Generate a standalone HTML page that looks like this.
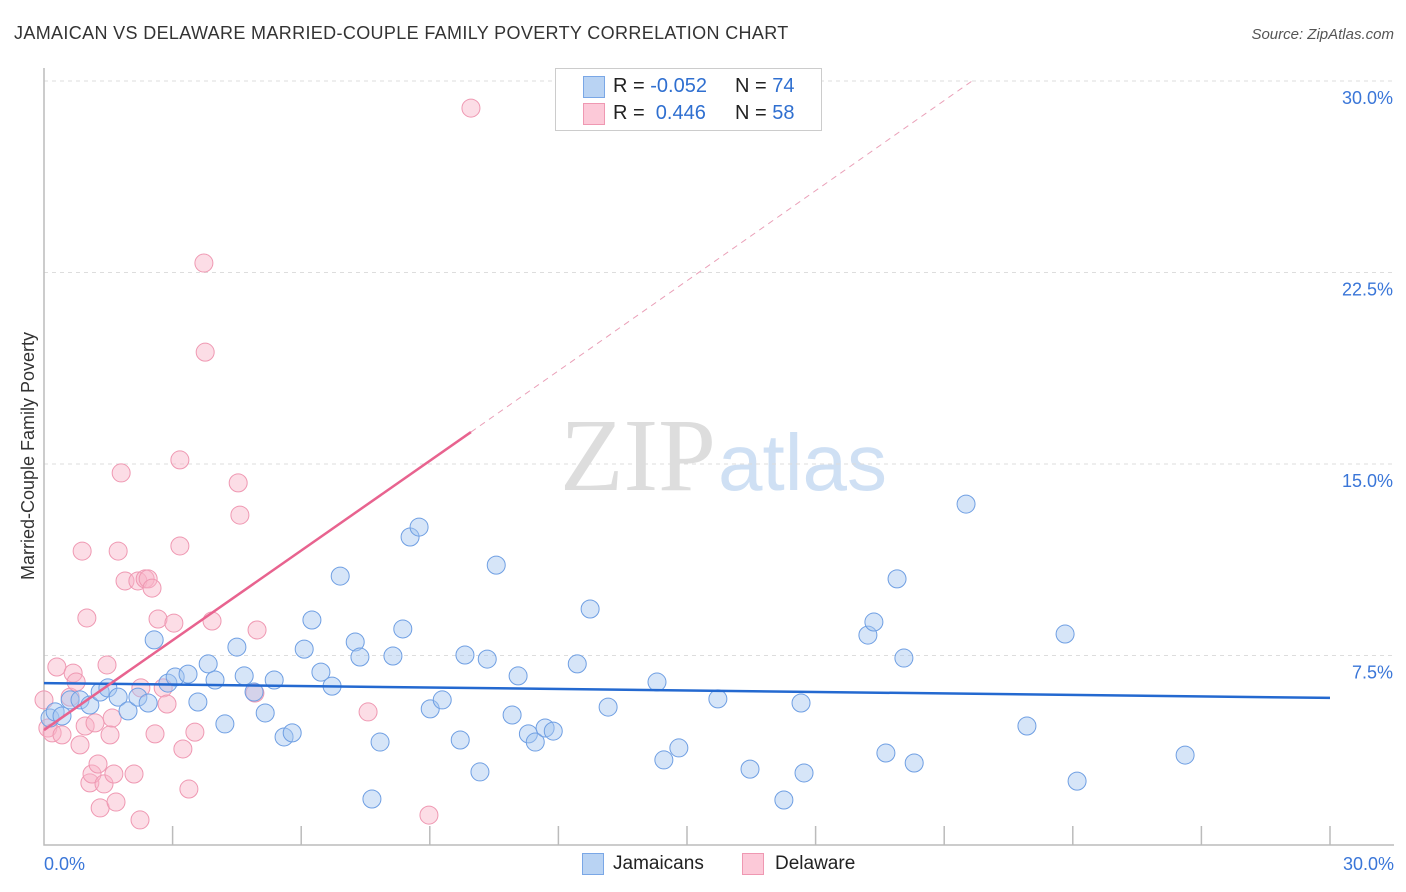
<!DOCTYPE html>
<html><head><meta charset="utf-8"><style>
body{margin:0;background:#fff;font-family:"Liberation Sans",sans-serif;}
#wrap{position:relative;width:1406px;height:892px;overflow:hidden}
</style></head><body>
<div id="wrap">
<svg id="svg" width="1406" height="892" xmlns="http://www.w3.org/2000/svg">
<text x="14" y="39" font-size="18" fill="#333" letter-spacing="0.35">JAMAICAN VS DELAWARE MARRIED-COUPLE FAMILY POVERTY CORRELATION CHART</text>
<text x="1394" y="39" font-size="15" fill="#555" font-style="italic" text-anchor="end">Source: ZipAtlas.com</text>
<text x="716" y="490" font-size="104" fill="#ddd" text-anchor="end" font-family="Liberation Serif,serif">ZIP</text>
<text x="718" y="490" font-size="80" fill="#cfe0f4">atlas</text>
<text transform="translate(34,456) rotate(-90)" font-size="18" fill="#333" text-anchor="middle">Married-Couple Family Poverty</text>
<g id="grid"></g><g id="pts"></g><g id="lines"></g>
</svg>
<div style="position:absolute;left:555px;top:68px;width:265px;height:61px;border:1px solid #ccc;background:#fff;font-size:20px">
 <div style="position:absolute;left:27px;top:7px;width:20px;height:20px;background:#b9d3f3;border:1px solid #7aa7e6"></div>
 <div style="position:absolute;left:57px;top:6px;color:#222">R = <span style="color:#2f6fd0">-0.052</span></div>
 <div style="position:absolute;left:179px;top:6px;color:#222">N = <span style="color:#2f6fd0">74</span></div>
 <div style="position:absolute;left:27px;top:34px;width:20px;height:20px;background:#fcc9d8;border:1px solid #ef98b2"></div>
 <div style="position:absolute;left:57px;top:33px;color:#222">R = &nbsp;<span style="color:#2f6fd0">0.446</span></div>
 <div style="position:absolute;left:179px;top:33px;color:#222">N = <span style="color:#2f6fd0">58</span></div>
</div>
<div style="position:absolute;left:582px;top:853px;width:20px;height:20px;background:#b9d3f3;border:1px solid #7aa7e6"></div>
<div style="position:absolute;left:613px;top:853px;font-size:19px;color:#222">Jamaicans</div>
<div style="position:absolute;left:742px;top:853px;width:20px;height:20px;background:#fcc9d8;border:1px solid #ef98b2"></div>
<div style="position:absolute;left:775px;top:853px;font-size:19px;color:#222">Delaware</div>
</div>
<script>
const yTicks=[7.5,15.0,22.5,30.0];
const yTickLabels=["7.5%","15.0%","22.5%","30.0%"];
const xTickLabels=["0.0%","30.0%"];
const blueX=[0.14,0.26,0.42,0.61,0.84,1.07,1.31,1.49,1.73,1.96,2.19,2.43,2.57,2.89,3.06,3.36,3.59,3.83,3.99,4.22,4.50,4.67,4.90,5.16,5.37,5.60,5.79,6.07,6.25,6.46,6.72,6.91,7.26,7.37,7.65,7.84,8.14,8.37,8.54,8.75,9.01,9.29,9.71,9.82,10.17,10.34,10.55,10.92,11.06,11.30,11.46,11.69,11.88,12.44,12.74,13.16,14.30,14.46,14.81,15.72,16.47,17.26,17.66,17.73,19.22,19.36,19.64,19.90,20.06,20.30,21.51,22.93,23.82,24.10,26.62];
const blueY=[5.05,5.29,5.13,5.76,5.76,5.56,6.07,6.23,5.87,5.33,5.87,5.64,8.11,6.42,6.66,6.77,5.68,7.17,6.54,4.82,7.83,6.70,6.07,5.25,6.54,4.31,4.47,7.75,8.89,6.85,6.30,10.61,8.03,7.44,1.88,4.11,7.48,8.54,12.14,12.53,5.41,5.76,4.19,7.52,2.94,7.36,11.04,5.17,6.70,4.43,4.11,4.66,4.54,7.17,9.32,5.48,6.46,3.41,3.88,5.80,3.05,1.84,5.64,2.90,8.30,8.81,3.68,10.50,7.40,3.29,13.43,4.74,8.34,2.58,3.60];
const pinkX=[0.00,0.09,0.19,0.30,0.42,0.61,0.68,0.75,0.84,0.89,0.96,1.00,1.07,1.12,1.19,1.26,1.31,1.40,1.47,1.54,1.59,1.63,1.68,1.73,1.80,1.89,2.10,2.19,2.24,2.26,2.36,2.43,2.52,2.59,2.66,2.78,2.87,3.03,3.17,3.17,3.24,3.38,3.52,3.73,3.76,3.92,4.53,4.57,4.97,4.92,7.56,8.98,9.96];
const pinkY=[5.76,4.66,4.47,7.05,4.39,5.87,6.81,6.46,4.00,11.59,4.74,8.97,2.51,2.86,4.86,3.25,1.53,2.47,7.13,4.39,5.05,2.86,1.76,11.59,14.65,10.42,2.86,10.42,1.06,6.23,10.50,10.50,10.14,4.43,8.93,6.23,5.60,8.77,11.79,15.16,3.84,2.27,4.50,22.87,19.38,8.85,14.26,13.00,8.50,6.03,5.29,1.25,28.94];
const jamLine=[6.42,5.84];
const delStart=[0,4.58], delEnd=[9.96,16.25], delDashEnd=[21.65,30.0];
const X0=44,X1=1330,Y0=847,PXY=191.5/7.5;
const sx=v=>X0+v/30*(X1-X0), sy=v=>Y0-v*PXY;
const NS="http://www.w3.org/2000/svg";
function mk(tag,attrs,parent){const e=document.createElementNS(NS,tag);for(const k in attrs)e.setAttribute(k,attrs[k]);parent.appendChild(e);return e;}
const grid=document.getElementById('grid'),pts=document.getElementById('pts'),lines=document.getElementById('lines'),svg=document.getElementById('svg');
yTicks.forEach((t,i)=>{
 const l=mk('line',{x1:X0,x2:1394,y1:sy(t),y2:sy(t),stroke:'#ddd','stroke-dasharray':'4,4'},grid);
 
 
 const tx=mk('text',{x:1393,y:sy(t)+23,'font-size':18,fill:'#3a76d8','text-anchor':'end'},grid);tx.textContent=yTickLabels[i];
 
 
});
const ax=mk('path',{d:`M${X0},68V845H1394`,stroke:'#bbb',fill:'none','stroke-width':1.5},grid);


for(let i=1;i<=10;i++){const t=mk('line',{x1:sx(i*3),x2:sx(i*3),y1:826,y2:845,stroke:'#bbb','stroke-width':1.5},grid);
 
 }
[[0,'start',44],[30,'end',1394]].forEach((a,i)=>{const t=mk('text',{x:a[2],y:870,'font-size':18,fill:'#3a76d8','text-anchor':a[1]},grid);t.textContent=xTickLabels[i];
 
 });
pinkX.forEach((x,i)=>{const c=mk('circle',{cx:sx(x),cy:sy(pinkY[i]),r:9,fill:'rgba(248,180,200,0.45)',stroke:'#ef98b2','stroke-width':1},pts);
 
 });
blueX.forEach((x,i)=>{const c=mk('circle',{cx:sx(x),cy:sy(blueY[i]),r:9,fill:'rgba(165,198,240,0.45)',stroke:'#6f9fe3','stroke-width':1},pts);
 
 });
const bl=mk('line',{x1:sx(0),y1:sy(jamLine[0]),x2:sx(30),y2:sy(jamLine[1]),stroke:'#2469d0','stroke-width':2.5},lines);


const pl=mk('line',{x1:sx(delStart[0]),y1:sy(delStart[1]),x2:sx(delEnd[0]),y2:sy(delEnd[1]),stroke:'#e8638f','stroke-width':2.5},lines);


const pd=mk('line',{x1:sx(delEnd[0]),y1:sy(delEnd[1]),x2:sx(delDashEnd[0]),y2:sy(delDashEnd[1]),stroke:'#eaa0b8','stroke-width':1,'stroke-dasharray':'6,5'},lines);


</script>
</body></html>
